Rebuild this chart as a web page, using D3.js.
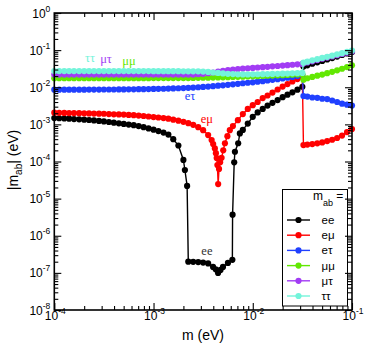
<!DOCTYPE html>
<html><head><meta charset="utf-8">
<script src="https://cdn.jsdelivr.net/npm/d3@7"></script>
<style>body{margin:0;background:#fff}svg{display:block}</style>
</head><body><svg id="c" width="374" height="348"></svg>
<script>
// m grid (eV) before the jump at m ~ 0.032 eV
const mGrid = [
 1.00e-4,1.12e-4,1.26e-4,1.41e-4,1.58e-4,1.78e-4,2.00e-4,2.24e-4,2.51e-4,2.82e-4,
 3.16e-4,3.55e-4,3.98e-4,4.47e-4,5.01e-4,5.62e-4,6.31e-4,7.08e-4,7.94e-4,8.91e-4,
 1.00e-3,1.12e-3,1.26e-3,1.41e-3,1.58e-3,1.78e-3,2.00e-3,2.24e-3,2.51e-3,2.82e-3,
 3.16e-3,3.55e-3,3.98e-3,4.47e-3,5.01e-3,5.62e-3,6.31e-3,7.08e-3,7.94e-3,8.91e-3,
 1.00e-2,1.12e-2,1.26e-2,1.41e-2,1.58e-2,1.78e-2,2.00e-2,2.24e-2,2.51e-2,2.82e-2,
 3.16e-2];
// m grid after the jump
const mPost = [3.24e-2,3.55e-2,3.98e-2,4.47e-2,5.01e-2,5.62e-2,6.31e-2,7.08e-2,7.94e-2,8.91e-2,1.00e-1];

// ee : own m points around the cancellation region
const eeDipM = [2.07e-3,2.18e-3,2.24e-3,2.51e-3,2.82e-3,3.16e-3,3.55e-3,3.98e-3,4.23e-3,4.47e-3,
 4.73e-3,5.01e-3,5.62e-3,6.23e-3,6.26e-3,6.50e-3,6.61e-3,7.13e-3,7.41e-3];
const eeM = mGrid.slice(0,27).concat(eeDipM, mGrid.slice(38), mPost);
const eeV = [
 1.48e-3,1.46e-3,1.44e-3,1.42e-3,1.39e-3,1.37e-3,1.34e-3,1.31e-3,1.28e-3,1.24e-3,
 1.20e-3,1.16e-3,1.11e-3,1.07e-3,1.03e-3,9.9e-4,9.5e-4,9.0e-4,8.4e-4,7.8e-4,
 7.2e-4,6.6e-4,6.0e-4,5.3e-4,4.0e-4,2.7e-4,1.1e-4,
 5.9e-5,2.2e-5,2.0e-7,1.98e-7,1.95e-7,1.9e-7,1.8e-7,1.45e-7,1.25e-7,1.0e-7,
 1.2e-7,1.45e-7,1.85e-7,2.25e-7,3.7e-6,9.5e-5,1.83e-4,3.1e-4,5.7e-4,
 7.1e-4,1.05e-3,1.6e-3,2.1e-3,2.6e-3,3.2e-3,3.8e-3,4.5e-3,5.4e-3,6.3e-3,7.3e-3,8.6e-3,1.03e-2,
 3.6e-2,3.9e-2,4.3e-2,4.7e-2,5.1e-2,5.6e-2,6.1e-2,6.7e-2,7.4e-2,8.1e-2,8.9e-2];

// e-mu : own m points around its dip
const emuDipM = [3.85e-3,3.99e-3,4.15e-3,4.25e-3,4.33e-3,4.40e-3,4.48e-3,4.57e-3,4.69e-3,4.85e-3,
 5.04e-3,5.24e-3,5.55e-3,5.87e-3];
const emuM = mGrid.slice(0,32).concat(emuDipM, mGrid.slice(36), mPost);
const emuV = [
 2.06e-3,2.05e-3,2.04e-3,2.02e-3,2.01e-3,2.00e-3,1.98e-3,1.97e-3,1.95e-3,1.94e-3,
 1.93e-3,1.90e-3,1.87e-3,1.85e-3,1.84e-3,1.80e-3,1.77e-3,1.73e-3,1.68e-3,1.63e-3,
 1.57e-3,1.53e-3,1.48e-3,1.42e-3,1.34e-3,1.26e-3,1.17e-3,1.08e-3,9.7e-4,8.4e-4,
 7.0e-4,5.15e-4,
 3.8e-4,2.95e-4,2.25e-4,1.68e-4,1.24e-4,8.0e-5,2.46e-5,6.3e-5,9.6e-5,1.26e-4,2.0e-4,3.1e-4,4.8e-4,7.0e-4,
 9.0e-4,1.3e-3,1.9e-3,2.6e-3,3.3e-3,4.0e-3,5.1e-3,6.0e-3,7.2e-3,8.7e-3,1.04e-2,1.22e-2,1.43e-2,1.66e-2,1.88e-2,
 2.77e-4,2.86e-4,2.95e-4,3.08e-4,3.27e-4,3.55e-4,3.85e-4,4.3e-4,5.0e-4,6.2e-4,7.5e-4];

const fullM = mGrid.concat(mPost);
const etauV = [
 8.6e-3,8.6e-3,8.6e-3,8.6e-3,8.6e-3,8.6e-3,8.6e-3,8.65e-3,8.65e-3,8.65e-3,
 8.7e-3,8.7e-3,8.7e-3,8.75e-3,8.75e-3,8.8e-3,8.8e-3,8.85e-3,8.9e-3,8.95e-3,
 9.0e-3,9.05e-3,9.1e-3,9.2e-3,9.3e-3,9.4e-3,9.5e-3,9.65e-3,9.8e-3,1.0e-2,
 1.02e-2,1.04e-2,1.07e-2,1.10e-2,1.13e-2,1.16e-2,1.2e-2,1.24e-2,1.28e-2,1.32e-2,
 1.36e-2,1.41e-2,1.46e-2,1.52e-2,1.58e-2,1.65e-2,1.72e-2,1.8e-2,1.9e-2,2.0e-2,2.13e-2,
 5.8e-3,5.6e-3,5.3e-3,5.2e-3,4.9e-3,4.8e-3,4.4e-3,4.0e-3,3.6e-3,3.4e-3,3.2e-3];
const mumuV = [
 1.76e-2,1.76e-2,1.76e-2,1.76e-2,1.76e-2,1.76e-2,1.76e-2,1.76e-2,1.76e-2,1.76e-2,
 1.76e-2,1.76e-2,1.76e-2,1.76e-2,1.76e-2,1.76e-2,1.76e-2,1.76e-2,1.76e-2,1.76e-2,
 1.77e-2,1.77e-2,1.77e-2,1.77e-2,1.77e-2,1.77e-2,1.77e-2,1.77e-2,1.78e-2,1.79e-2,
 1.80e-2,1.81e-2,1.82e-2,1.84e-2,1.85e-2,1.87e-2,1.89e-2,1.91e-2,1.93e-2,1.95e-2,
 1.97e-2,1.99e-2,2.01e-2,2.04e-2,2.06e-2,2.09e-2,2.12e-2,2.15e-2,2.18e-2,2.21e-2,2.24e-2,
 1.6e-2,1.75e-2,1.9e-2,2.05e-2,2.2e-2,2.4e-2,2.6e-2,2.85e-2,3.15e-2,3.5e-2,3.9e-2];
const mutauV = [
 2.2e-2,2.2e-2,2.2e-2,2.2e-2,2.2e-2,2.2e-2,2.2e-2,2.2e-2,2.2e-2,2.2e-2,
 2.2e-2,2.2e-2,2.2e-2,2.2e-2,2.2e-2,2.2e-2,2.2e-2,2.2e-2,2.2e-2,2.2e-2,
 2.2e-2,2.2e-2,2.2e-2,2.2e-2,2.2e-2,2.2e-2,2.2e-2,2.2e-2,2.2e-2,2.25e-2,
 2.3e-2,2.4e-2,2.5e-2,2.62e-2,2.75e-2,2.88e-2,3.0e-2,3.1e-2,3.18e-2,3.25e-2,
 3.32e-2,3.4e-2,3.48e-2,3.56e-2,3.65e-2,3.74e-2,3.84e-2,3.94e-2,4.04e-2,4.14e-2,4.25e-2,
 4.4e-2,4.65e-2,5.0e-2,5.4e-2,5.85e-2,6.3e-2,6.75e-2,7.3e-2,7.9e-2,8.55e-2,9.2e-2];
const tautauV = [
 2.73e-2,2.73e-2,2.73e-2,2.73e-2,2.73e-2,2.73e-2,2.73e-2,2.73e-2,2.73e-2,2.73e-2,
 2.72e-2,2.72e-2,2.72e-2,2.72e-2,2.72e-2,2.72e-2,2.72e-2,2.72e-2,2.72e-2,2.72e-2,
 2.71e-2,2.71e-2,2.71e-2,2.71e-2,2.71e-2,2.71e-2,2.69e-2,2.69e-2,2.69e-2,2.69e-2,
 2.64e-2,2.58e-2,2.5e-2,2.43e-2,2.36e-2,2.3e-2,2.26e-2,2.23e-2,2.22e-2,2.22e-2,
 2.23e-2,2.24e-2,2.25e-2,2.26e-2,2.28e-2,2.3e-2,2.32e-2,2.34e-2,2.37e-2,2.4e-2,2.43e-2,
 4.6e-2,4.9e-2,5.3e-2,5.7e-2,6.15e-2,6.6e-2,7.1e-2,7.7e-2,8.3e-2,9.0e-2,9.7e-2];

const seriesNames = ["ee","eμ","eτ","μμ","μτ","ττ"];
const seriesColors = ["#000000","#ff0000","#2040ff","#62e802","#a23cf4","#73f4da"];
const seriesM = [eeM, emuM, fullM, fullM, fullM, fullM];
const seriesV = [eeV, emuV, etauV, mumuV, mutauV, tautauV];

const xMajor = [1e-4,1e-3,1e-2,1e-1];
const xExp = ["-4","-3","-2","-1"];
const yMajor = [1e-8,1e-7,1e-6,1e-5,1e-4,1e-3,1e-2,1e-1,1];
const yExp = ["-8","-7","-6","-5","-4","-3","-2","-1","0"];

// curve labels: [text, m, value] (baseline position)
const curveLabels = [
 ["ττ",2.29e-4,4.8e-2],["μτ",3.32e-4,4.4e-2],["μμ",5.65e-4,4.1e-2],
 ["eτ",2.33e-3,4.5e-3],["eμ",3.45e-3,1.08e-3],["ee",3.45e-3,3.0e-7]];

const L=54.3, R=352, T=13, B=310;
const x = d3.scaleLog().domain([1e-4,1e-1]).range([L,R]);
const y = d3.scaleLog().domain([1e-8,1]).range([B,T]);
const svg = d3.select("#c");
const sans = "'Liberation Sans', Arial, Helvetica, sans-serif";
const serif = "'Liberation Serif', 'Times New Roman', serif";

// data
const line = d3.line().x(d=>x(d[0])).y(d=>y(d[1]));
seriesNames.forEach((n,i)=>{
  const pts = seriesM[i].map((m,j)=>[m, seriesV[i][j]]);
  const g = svg.append("g");
  g.append("path").attr("d", line(pts)).attr("fill","none")
    .attr("stroke", seriesColors[i]).attr("stroke-width",1.4);
  g.selectAll("circle").data(pts).join("circle")
    .attr("cx",d=>x(d[0])).attr("cy",d=>y(d[1])).attr("r",3.1)
    .attr("fill",seriesColors[i]);
});

// curve labels
curveLabels.forEach(c=>{
  const idx = seriesNames.indexOf(c[0]);
  svg.append("text").attr("x",x(c[1])).attr("y",y(c[2]))
    .attr("text-anchor","middle").attr("font-family",serif).attr("font-size",12.5)
    .attr("fill", idx===0 ? "#333" : seriesColors[idx]).text(c[0]);
});

// legend
const lg = svg.append("g");
lg.append("rect").attr("x",282.5).attr("y",189.5).attr("width",65).attr("height",116.5)
  .attr("fill","#fff").attr("stroke","#000").attr("stroke-width",1);
const tt = lg.append("text").attr("x",313).attr("y",200).attr("font-family",sans)
  .attr("font-size",12).attr("fill","#000");
tt.append("tspan").text("m");
tt.append("tspan").attr("dy",6).attr("font-size",9).text("ab");
tt.append("tspan").attr("dy",-6).attr("font-size",12).text(" =");
seriesNames.forEach((n,i)=>{
  const cy = 220 + i*15.2;
  lg.append("line").attr("x1",287).attr("x2",310).attr("y1",cy).attr("y2",cy)
    .attr("stroke",seriesColors[i]).attr("stroke-width",1.4);
  lg.append("circle").attr("cx",298.5).attr("cy",cy).attr("r",3.1).attr("fill",seriesColors[i]);
  lg.append("text").attr("x",321.5).attr("y",cy+4).attr("font-family",sans)
    .attr("font-size",11.5).attr("fill","#000").text(n);
});

// axes with inward ticks on all four sides
function minorTicks(lo,hi){ const t=[]; for(let d=lo; d<hi; d++){ for(let k=2;k<=9;k++) t.push(k*Math.pow(10,d)); } return t; }
const xMinor = minorTicks(-4,-1), yMinor = minorTicks(-8,0);
function styleAxis(g){ g.select(".domain").remove(); g.selectAll("line").attr("stroke","#000").attr("stroke-width",1.1); g.selectAll("text").remove(); }
svg.append("g").attr("transform",`translate(0,${B})`).call(d3.axisBottom(x).tickValues(xMajor).tickSize(-7)).call(styleAxis);
svg.append("g").attr("transform",`translate(0,${B})`).call(d3.axisBottom(x).tickValues(xMinor).tickSize(-4)).call(styleAxis);
svg.append("g").attr("transform",`translate(0,${T})`).call(d3.axisTop(x).tickValues(xMajor).tickSize(-7)).call(styleAxis);
svg.append("g").attr("transform",`translate(0,${T})`).call(d3.axisTop(x).tickValues(xMinor).tickSize(-4)).call(styleAxis);
svg.append("g").attr("transform",`translate(${L},0)`).call(d3.axisLeft(y).tickValues(yMajor).tickSize(-7)).call(styleAxis);
svg.append("g").attr("transform",`translate(${L},0)`).call(d3.axisLeft(y).tickValues(yMinor).tickSize(-4)).call(styleAxis);
svg.append("g").attr("transform",`translate(${R},0)`).call(d3.axisRight(y).tickValues(yMajor).tickSize(-7)).call(styleAxis);
svg.append("g").attr("transform",`translate(${R},0)`).call(d3.axisRight(y).tickValues(yMinor).tickSize(-4)).call(styleAxis);
svg.append("rect").attr("x",L).attr("y",T).attr("width",R-L).attr("height",B-T)
  .attr("fill","none").attr("stroke","#000").attr("stroke-width",1.6);

// tick labels
xMajor.forEach((v,i)=>{
  const t = svg.append("text").attr("x",x(v)+1).attr("y",B+10).attr("text-anchor","middle")
    .attr("font-family",sans).attr("font-size",12).attr("fill","#000");
  t.append("tspan").text("10");
  t.append("tspan").attr("dy",-6).attr("font-size",8.5).text(xExp[i]);
});
yMajor.forEach((v,i)=>{
  const t = svg.append("text").attr("x",L-4).attr("y",y(v)+4.5).attr("text-anchor","end")
    .attr("font-family",sans).attr("font-size",12).attr("fill","#000");
  t.append("tspan").text("10");
  t.append("tspan").attr("dy",-6).attr("font-size",8.5).text(yExp[i]);
});

// axis titles
svg.append("text").attr("x",203).attr("y",340).attr("text-anchor","middle")
  .attr("font-family",sans).attr("font-size",14).attr("fill","#000").text("m (eV)");
const yl = svg.append("text").attr("transform","translate(18,160) rotate(-90)")
  .attr("text-anchor","middle").attr("font-family",sans).attr("font-size",14).attr("fill","#000");
yl.append("tspan").text("|m");
yl.append("tspan").attr("dy",4).attr("font-size",10).text("ab");
yl.append("tspan").attr("dy",-4).attr("font-size",14).text("| (eV)");
</script>
</body></html>
